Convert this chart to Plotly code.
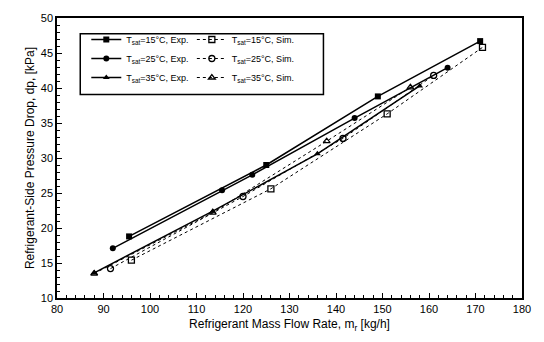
import plotly.graph_objects as go

# Data
x15_exp = [95.5, 125, 149, 171]
y15_exp = [18.8, 29.0, 38.8, 46.7]
x25_exp = [92, 115.5, 122, 144, 164]
y25_exp = [17.1, 25.4, 27.6, 35.7, 42.9]
x35_exp = [88, 113.5, 136, 158]
y35_exp = [13.6, 22.4, 30.6, 40.3]
x15_sim = [96, 126, 151, 171.5]
y15_sim = [15.4, 25.6, 36.3, 45.8]
x25_sim = [91.5, 120, 141.5, 161]
y25_sim = [14.2, 24.5, 32.8, 41.8]
x35_sim = [88, 113.5, 138, 156]
y35_sim = [13.5, 22.2, 32.4, 40.1]

names_exp = ["T<sub>sat</sub>=15°C, Exp.", "T<sub>sat</sub>=25°C, Exp.", "T<sub>sat</sub>=35°C, Exp."]
names_sim = ["T<sub>sat</sub>=15°C, Sim.", "T<sub>sat</sub>=25°C, Sim.", "T<sub>sat</sub>=35°C, Sim."]

FONT = "Liberation Sans, Arial, sans-serif"
fig = go.Figure()

exp_sets = [(x15_exp, y15_exp, "square"), (x25_exp, y25_exp, "circle"), (x35_exp, y35_exp, "triangle-up")]
sim_sets = [(x15_sim, y15_sim, "square-open"), (x25_sim, y25_sim, "circle-open"), (x35_sim, y35_sim, "triangle-up-open")]

for (xs, ys, sym), nm in zip(exp_sets, names_exp):
    fig.add_trace(go.Scatter(x=xs, y=ys, name=nm, mode="lines+markers",
                             line=dict(color="black", width=1.5),
                             marker=dict(symbol=sym, size=6, color="black"),
                             legend="legend"))
for (xs, ys, sym), nm in zip(sim_sets, names_sim):
    fig.add_trace(go.Scatter(x=xs, y=ys, name=nm, mode="lines+markers",
                             line=dict(color="black", width=1, dash="dot"),
                             marker=dict(symbol=sym, size=6, color="black", line=dict(width=1.3)),
                             legend="legend2"))

axis_common = dict(showline=True, linecolor="black", linewidth=1.5, mirror=True,
                   ticks="inside", ticklen=5, tickwidth=1.2, tickcolor="black",
                   showgrid=False, zeroline=False,
                   tickfont=dict(family=FONT, size=11, color="black"),
                   minor=dict(ticks="inside", ticklen=3, tickwidth=1, tickcolor="black"))

fig.update_layout(
    width=544, height=342,
    margin=dict(l=57, r=22, t=12, b=44),
    plot_bgcolor="white", paper_bgcolor="white",
    font=dict(family=FONT, color="black"),
    xaxis=dict(range=[80, 180], dtick=10, tick0=80,
               title=dict(text="Refrigerant Mass Flow Rate, m<sub>r</sub> [kg/h]",
                          font=dict(family=FONT, size=12), standoff=6),
               **axis_common),
    yaxis=dict(range=[10, 50], dtick=5, tick0=10,
               title=dict(text="Refrigerant-Side Pressure Drop, dp, [kPa]",
                          font=dict(family=FONT, size=12), standoff=4),
               **axis_common),
    legend=dict(x=0.063, y=0.975, xanchor="left", yanchor="top",
                bgcolor="rgba(0,0,0,0)", borderwidth=0,
                font=dict(family=FONT, size=9), itemwidth=30,
                tracegroupgap=0),
    legend2=dict(x=0.29, y=0.975, xanchor="left", yanchor="top",
                 bgcolor="rgba(0,0,0,0)", borderwidth=0,
                 font=dict(family=FONT, size=9), itemwidth=30,
                 tracegroupgap=0),
    shapes=[dict(type="rect", xref="paper", yref="paper",
                 x0=0.05, x1=0.573, y0=0.727, y1=0.944,
                 line=dict(color="black", width=1.5))],
)

fig.write_html("out.html")
